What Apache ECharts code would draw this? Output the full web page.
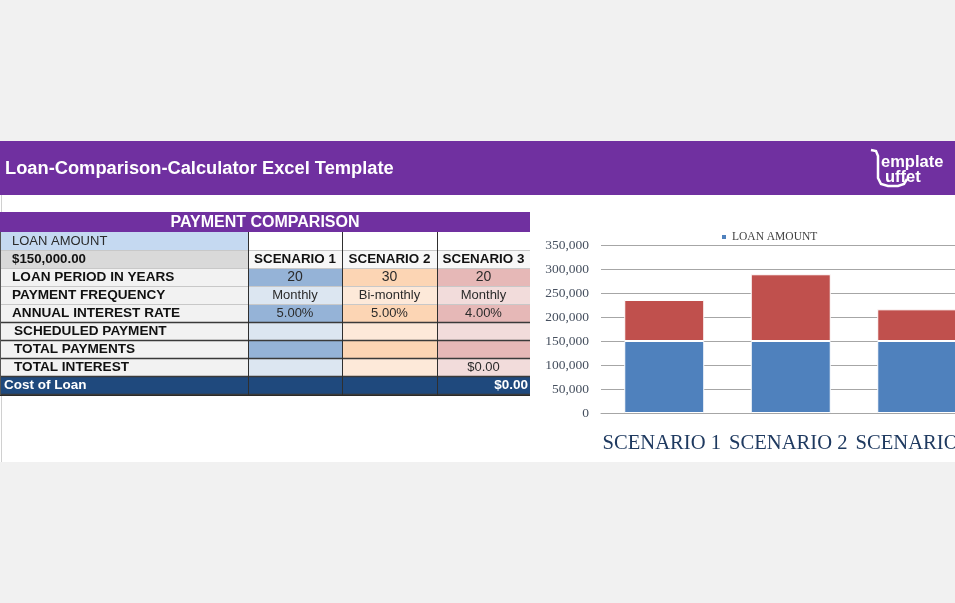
<!DOCTYPE html>
<html>
<head>
<meta charset="utf-8">
<script src="https://cdn.jsdelivr.net/npm/echarts@6/dist/echarts.min.js"></script>
<style>
html,body{margin:0;padding:0;overflow:hidden;background:#f1f1f1;width:955px;height:603px;}
#main{width:1000px;height:603px;}
</style>
</head>
<body>
<div id="main"></div>
<script>
// ---------- data ----------
const pageTitle = 'Loan-Comparison-Calculator Excel Template';
const tableTitle = 'PAYMENT COMPARISON';
const loanAmountLabel = 'LOAN AMOUNT';
const loanAmountText = '$150,000.00';
const scenarios = ['SCENARIO 1', 'SCENARIO 2', 'SCENARIO 3'];
const rowLabels = ['LOAN PERIOD IN YEARS', 'PAYMENT FREQUENCY', 'ANNUAL INTEREST RATE', 'SCHEDULED PAYMENT', 'TOTAL PAYMENTS', 'TOTAL INTEREST'];
const loanPeriod = ['20', '30', '20'];
const paymentFrequency = ['Monthly', 'Bi-monthly', 'Monthly'];
const interestRate = ['5.00%', '5.00%', '4.00%'];
const scheduledPayment = ['', '', ''];
const totalPaymentsText = ['', '', ''];
const totalInterestText = ['', '', '$0.00'];
const costOfLoanLabel = 'Cost of Loan';
const costOfLoan = ['', '', '$0.00'];

// chart
const categories = ['SCENARIO 1', 'SCENARIO 2', 'SCENARIO 3'];
const loanAmount = [150000, 150000, 150000];
const totalInterest = [85400, 139000, 66000];
const yMin = 0, yMax = 350000, yStep = 50000;

// ---------- layout / style ----------
const FONT = '"Liberation Sans", Arial, sans-serif';
const SERIF = '"Liberation Serif", "DejaVu Serif", serif';
const colX = [0, 248, 342, 437, 530];
const tableTop = 212, titleH = 20, rowH = 18;
const colDark = ['#95b3d7', '#fcd5b4', '#e6b8b7'];
const colLight = ['#dce6f1', '#fde9d9', '#f2dcdb'];

const g = [];
function rect(x, y, w, h, fill, z) {
  g.push({type: 'rect', silent: true, z: z || 0, shape: {x: x, y: y, width: w, height: h}, style: {fill: fill}});
}
function line(x1, y1, x2, y2, stroke, w, z) {
  g.push({type: 'line', silent: true, z: z || 2, shape: {x1: x1, y1: y1, x2: x2, y2: y2}, style: {stroke: stroke, lineWidth: w || 1}});
}
function text(x, y, str, size, weight, fill, align, fam) {
  if (!str) return;
  g.push({type: 'text', silent: true, z: 3, x: x, y: y,
    style: {text: str, fill: fill, font: (weight || 'normal') + ' ' + size + 'px ' + (fam || FONT),
      align: align || 'left', textAlign: align || 'left', verticalAlign: 'middle', textVerticalAlign: 'middle'}});
}

// page background pieces
rect(0, 141, 1000, 321, '#ffffff', -20);
rect(0, 141, 1000, 54, '#7030a0', -10);
line(1.5, 195, 1.5, 462, '#d0d0d0', 1, -5);
text(5, 169, pageTitle, 18.3, 'bold', '#ffffff', 'left');
// logo
g.push({type: 'polyline', silent: true, z: 3,
  shape: {points: [[871, 150], [876, 151], [878, 156], [878, 178], [881, 184], [888, 186], [898, 186], [904, 184], [907, 179]]},
  style: {stroke: '#ffffff', lineWidth: 2.5, fill: null}});
text(881, 162, 'emplate', 16.5, 'bold', '#ffffff', 'left');
text(885, 177, 'uffet', 16.5, 'bold', '#ffffff', 'left');

// table title
rect(0, tableTop, 530, titleH, '#7030a0', 0);
text(265, tableTop + titleH / 2 + 0.5, tableTitle, 16, 'bold', '#ffffff', 'center');

let y0 = tableTop + titleH;
// row: loan amount label
rect(0, y0, 248, rowH, '#c5d9f1', 0);
for (let c = 0; c < 3; c++) rect(colX[c + 1], y0, colX[c + 2] - colX[c + 1], rowH, '#ffffff', 0);
text(12, y0 + rowH / 2 + 0.5, loanAmountLabel, 13, 'normal', '#2b2b2b', 'left');
// row: amount + scenario headers
let y1 = y0 + rowH;
rect(0, y1, 248, rowH, '#d9d9d9', 0);
text(12, y1 + rowH / 2 + 0.5, loanAmountText, 13.3, 'bold', '#111111', 'left');
for (let c = 0; c < 3; c++) {
  rect(colX[c + 1], y1, colX[c + 2] - colX[c + 1], rowH, '#f7f7f7', 0);
  text((colX[c + 1] + colX[c + 2]) / 2, y1 + rowH / 2 + 0.5, scenarios[c], 13.4, 'bold', '#111111', 'center');
}
// data rows
const rowValues = [loanPeriod, paymentFrequency, interestRate, scheduledPayment, totalPaymentsText, totalInterestText];
for (let r = 0; r < rowLabels.length; r++) {
  const y = y1 + rowH * (r + 1);
  rect(0, y, 248, rowH, '#f2f2f2', 0);
  text(r >= 3 ? 14 : 12, y + rowH / 2 + 0.5, rowLabels[r], 13.6, 'bold', '#111111', 'left');
  for (let c = 0; c < 3; c++) {
    rect(colX[c + 1], y, colX[c + 2] - colX[c + 1], rowH, r % 2 === 0 ? colDark[c] : colLight[c], 0);
    text((colX[c + 1] + colX[c + 2]) / 2, y + rowH / 2 + 0.5, rowValues[r][c], r === 0 ? 14 : 13, 'normal', '#2b2b2b', 'center');
  }
}
// cost of loan row
const yc = y1 + rowH * (rowLabels.length + 1);
rect(0, yc, 530, rowH + 1, '#1f497d', 0);
text(4, yc + rowH / 2 + 0.5, costOfLoanLabel, 13.5, 'bold', '#ffffff', 'left');
for (let c = 0; c < 3; c++) text(colX[c + 2] - 2, yc + rowH / 2 + 0.5, costOfLoan[c], 13.5, 'bold', '#ffffff', 'right');

// borders
for (let i = 1; i <= 9; i++) {
  const y = y0 + rowH * i + 0.5;
  const dark = i >= 5;
  line(0, y, 530, y, dark ? '#3a3a3a' : '#c8c8c8', dark ? 1.5 : 1);
}
line(0, yc + rowH + 1.5, 530, yc + rowH + 1.5, '#2a2a2a', 1);
for (let c = 1; c <= 3; c++) line(colX[c] + 0.5, y0, colX[c] + 0.5, yc + rowH + 1, '#2f2f2f', 1);
line(0.5, y0, 0.5, yc + rowH + 1, '#555555', 1);

const chart = echarts.init(document.getElementById('main'), null, {renderer: 'canvas'});
chart.setOption({
  backgroundColor: '#f1f1f1',
  animation: false,
  graphic: {elements: g},
  legend: {
    data: ['LOAN AMOUNT'],
    left: 715, top: 226,
    icon: 'rect', itemWidth: 6, itemHeight: 6, itemGap: 10,
    textStyle: {fontFamily: SERIF, fontSize: 11.5, color: '#404040'}
  },
  grid: {left: 601, top: 245, width: 379.5, height: 168, containLabel: false},
  xAxis: {
    type: 'category', data: categories,
    axisLine: {show: true, lineStyle: {color: '#a6a6a6', width: 1}},
    axisTick: {show: false},
    axisLabel: {interval: 0, margin: 20, fontFamily: SERIF, fontSize: 20.6, color: '#1f3a60', padding: [0, 5, 0, 0]}
  },
  yAxis: {
    type: 'value', min: yMin, max: yMax, interval: yStep,
    axisLine: {show: false}, axisTick: {show: false},
    splitLine: {lineStyle: {color: '#a6a6a6', width: 1}},
    axisLabel: {margin: 12, fontFamily: SERIF, fontSize: 13.5, color: '#46505f',
      formatter: v => v.toLocaleString('en-US')}
  },
  series: [
    {name: 'LOAN AMOUNT', type: 'bar', stack: 'total', data: loanAmount, barWidth: 80,
      itemStyle: {color: '#4f81bd', borderColor: '#ffffff', borderWidth: 1}},
    {name: 'TOTAL INTEREST', type: 'bar', stack: 'total', data: totalInterest, barWidth: 80,
      itemStyle: {color: '#c0504d', borderColor: '#ffffff', borderWidth: 1}}
  ]
});
</script>
</body>
</html>
